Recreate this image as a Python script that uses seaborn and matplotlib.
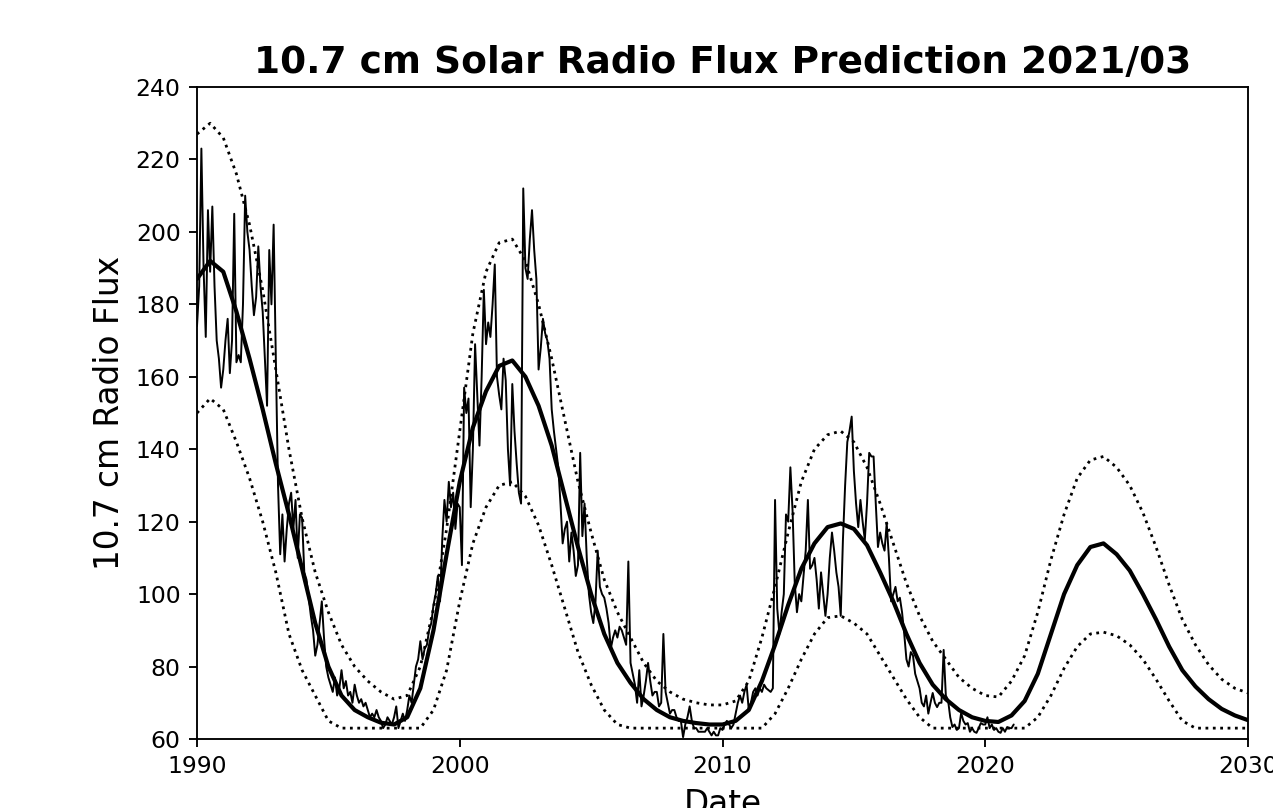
import numpy as np
import pandas as pd
import matplotlib
matplotlib.use("Agg")
import matplotlib.pyplot as plt
import seaborn as sns

# ---------------- data ----------------
# observed monthly 10.7 cm flux, one list per decade, starting January 1990
flux_1990s = [
    174, 185, 223, 190, 171, 206, 189, 207, 185, 170, 165, 157,   # 1990
    162, 170, 176, 161, 170, 205, 164, 166, 164, 180, 210, 200,   # 1991
    195, 185, 177, 182, 196, 185, 178, 165, 152, 195, 180, 202,   # 1992
    165, 130, 111, 122, 109, 118, 125, 128, 118, 126, 110, 122,   # 1993
    121, 106, 104, 99, 94, 90, 83, 86, 92, 98, 88, 80,            # 1994
    77, 75, 73, 77, 72, 74, 79, 74, 76, 72, 73, 70,               # 1995
    75, 72, 70, 71, 69, 70, 68, 66, 67, 66, 68, 66,               # 1996
    65, 63, 64, 66, 65, 64, 66, 69, 63, 65, 67, 65,               # 1997
    68, 72, 70, 75, 80, 82, 87, 82, 85, 86, 90, 92,               # 1998
    97, 100, 105, 98, 115, 126, 120, 131, 124, 128, 118, 125,     # 1999
]
flux_2000s = [
    124, 108, 157, 150, 154, 124, 140, 169, 155, 141, 160, 184,   # 2000
    169, 175, 171, 180, 191, 160, 155, 151, 165, 159, 140, 130,   # 2001
    158, 145, 136, 128, 125, 212, 190, 187, 198, 206, 195, 187,   # 2002
    162, 168, 176, 172, 170, 165, 151, 145, 140, 135, 125, 114,   # 2003
    118, 120, 109, 117, 112, 105, 108, 139, 116, 125, 110, 100,   # 2004
    95, 92, 98, 112, 102, 100, 99, 96, 92, 85, 88, 90,            # 2005
    88, 91, 90, 88, 86, 109, 81, 78, 75, 70, 79, 69,              # 2006
    72, 76, 81, 76, 72, 73, 73, 69, 70, 89, 73, 70,               # 2007
    67, 68, 68, 66, 65, 65, 60.5, 64, 66, 69, 65, 63,             # 2008
    63, 62, 62, 62, 62, 63, 62, 61, 62, 61, 61, 63,               # 2009
]
flux_2010s = [
    62.5, 64, 65, 64, 63, 64, 67, 70, 72, 70, 73, 75,             # 2010
    68, 70, 73, 74, 72, 74, 73, 75, 74, 73.5, 73, 74,             # 2011
    126, 96, 89, 95, 100, 122, 120, 135, 123, 103, 95, 100,       # 2012
    98, 105, 112, 126, 107, 108, 110, 104, 96, 106, 100, 94,      # 2013
    100, 110, 117, 112, 106, 102, 94, 115, 130, 142, 145, 149,    # 2014
    134, 125, 118.5, 126, 120, 115, 125, 139, 138, 138, 125, 113, # 2015
    117, 114, 112, 119.6, 110, 98, 100, 102, 98, 99, 95, 89,      # 2016
    82, 80, 84, 83, 78, 76, 74, 70, 69, 72, 67, 70,               # 2017
    72.7, 70, 68.8, 70, 70, 84.6, 72, 70.8, 66, 63.3, 64, 62.5,   # 2018
    63, 67.2, 65, 64, 64.4, 62, 63, 62, 61.7, 63, 64.4, 64,       # 2019
]
flux_2020s = [
    64, 66, 63, 64, 62.5, 63, 62, 61.7, 63, 62, 63.3, 63,         # 2020
    63, 64,                                                       # 2021
]

# predicted curve and its bounds, every half year 1990.0 ... 2030.0
pred_mean = [
    187, 192, 189, 178, 165, 151, 136, 122, 107, 92,
    80, 72, 68, 66, 64.5, 64, 66, 74, 90, 111,
    131, 146, 156, 163, 164.5, 160, 152, 141, 127, 113,
    100, 89, 81, 75.5, 71, 68, 66, 65, 64.4, 64,
    64, 65, 68, 76, 86, 97, 107, 114, 118.5, 119.5,
    118, 113.5, 106, 98, 89, 81, 75, 71, 68, 66,
    65, 64.7, 66.5, 70.5, 78, 89, 100, 108, 113, 114,
    111, 106.5, 100, 93, 85.5, 79, 74.5, 71, 68.3, 66.5, 65.2,
]
pred_upper = [
    227, 230, 226, 216, 202, 184, 162, 140, 121, 106,
    95, 86, 80, 76, 73, 71, 72, 80, 96, 118,
    145, 172, 189, 197, 198, 192, 180, 165, 148, 131,
    117, 104, 95, 88, 81, 76, 73, 71, 70, 69.4,
    69.4, 70.5, 76, 88, 102, 117, 131, 140, 144, 145,
    142, 135, 125, 114, 103, 94, 87, 82, 77, 74,
    72, 71.6, 76, 83, 95, 109.5, 122, 132, 137, 138,
    135, 130, 122.5, 113, 102.5, 93, 86, 80.5, 76.5, 74, 72.7,
]
pred_lower = [
    150, 154, 151, 142, 132, 120, 106, 89, 79, 72,
    65, 63, 63, 63, 63, 63, 63, 63, 68, 79,
    98, 114, 124, 130, 131, 127, 119, 108, 96, 84,
    75, 68, 64, 63, 63, 63, 63, 63, 63, 63,
    63, 63, 63, 63, 67, 74, 82, 89, 93.5, 94,
    92, 89, 83, 77, 71, 66, 63, 63, 63, 63,
    63, 63, 63, 63, 66, 72, 79.5, 85.5, 89, 89.5,
    88.5, 86, 82, 76.5, 70.5, 65, 63, 63, 63, 63, 63,
]

title_text = "10.7 cm Solar Radio Flux Prediction 2021/03"
y_label = "10.7 cm Radio Flux"
x_label = "Date"
x_ticks = [1990, 2000, 2010, 2020, 2030]
y_ticks = [60, 80, 100, 120, 140, 160, 180, 200, 220, 240]

# ---------------- tables ----------------
obs_values = flux_1990s + flux_2000s + flux_2010s + flux_2020s
obs = pd.DataFrame({
    "date": 1990 + np.arange(len(obs_values)) / 12.0,
    "flux": obs_values,
})
pred = pd.DataFrame({
    "date": 1990 + 0.5 * np.arange(len(pred_mean)),
    "mean": pred_mean,
    "upper": pred_upper,
    "lower": pred_lower,
})

# ---------------- figure ----------------
sns.set_style("ticks")
plt.rcParams["font.family"] = ["DejaVu Sans"]
plt.rcParams["text.color"] = "black"
plt.rcParams["axes.labelcolor"] = "black"

fig = plt.figure(figsize=(12.73, 8.08), dpi=100)
ax = fig.add_axes([197 / 1273, 1 - 739 / 808, (1248 - 197) / 1273, (739 - 87) / 808])

sns.lineplot(data=obs, x="date", y="flux", ax=ax, color="black",
             linewidth=1.4, estimator=None, sort=False)
sns.lineplot(data=pred, x="date", y="upper", ax=ax, color="black",
             linewidth=2.0, linestyle=":", estimator=None, sort=False)
sns.lineplot(data=pred, x="date", y="lower", ax=ax, color="black",
             linewidth=2.0, linestyle=":", estimator=None, sort=False)
sns.lineplot(data=pred, x="date", y="mean", ax=ax, color="black",
             linewidth=3.0, estimator=None, sort=False,
             solid_joinstyle="round")

ax.set_xlim(1990, 2030)
ax.set_ylim(60, 240)
ax.set_xticks(x_ticks)
ax.set_yticks(y_ticks)
ax.tick_params(axis="both", labelsize=16.9, length=5.9, width=1.35, pad=5.9,
               direction="out", colors="black")
for side in ["top", "right", "bottom", "left"]:
    ax.spines[side].set_visible(True)
    ax.spines[side].set_linewidth(1.35)
    ax.spines[side].set_color("black")

ax.set_title(title_text, fontsize=27, fontweight="bold", pad=10, color="black")
ax.set_ylabel(y_label, fontsize=23.6, labelpad=6.8, color="black")
ax.set_xlabel(x_label, fontsize=23.6, labelpad=6.8, color="black")

fig.savefig("out.png", dpi=100, facecolor="white")
